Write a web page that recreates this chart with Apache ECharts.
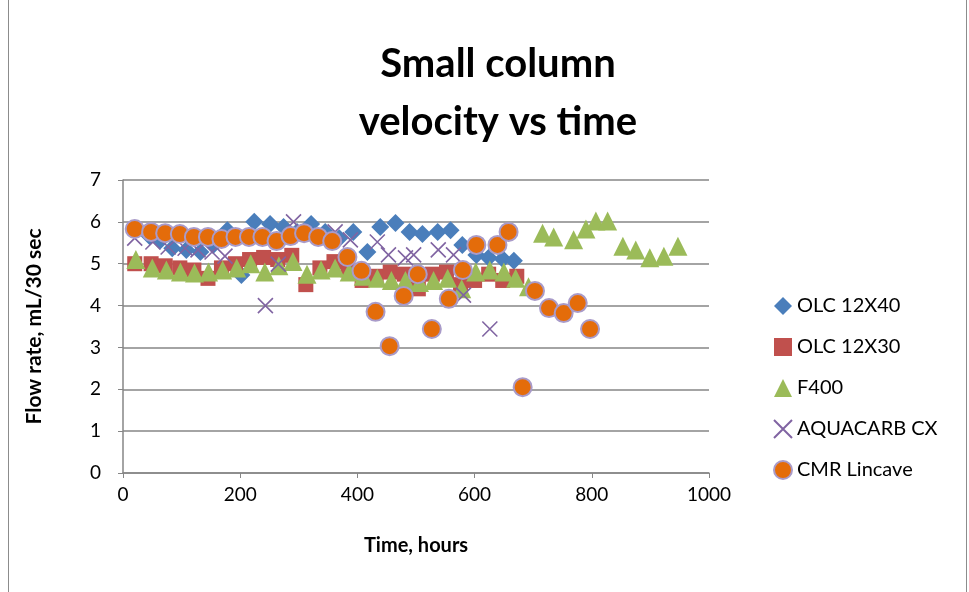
<!DOCTYPE html>
<html><head><meta charset="utf-8">
<script src="https://cdn.jsdelivr.net/npm/echarts@6/dist/echarts.min.js"></script>
<style>html,body{margin:0;padding:0;background:#fff}#c{width:969px;height:592px}</style>
</head><body><div id="c"></div>
<script>
const seriesNames = ['OLC 12X40', 'OLC 12X30', 'F400', 'AQUACARB CX', 'CMR Lincave'];
const xTicks = [0, 200, 400, 600, 800, 1000];
const yTicks = [0, 1, 2, 3, 4, 5, 6, 7];

const olc40X = [20, 46, 63, 84, 108, 132, 154, 178, 202, 224, 251, 274, 297, 321, 345, 369, 393, 417, 439, 465, 489, 511, 537, 559, 579, 603, 624, 648, 667];
const olc40Y = [5.83, 5.65, 5.55, 5.37, 5.33, 5.28, 5.45, 5.8, 4.73, 6.0, 5.95, 5.88, 5.76, 5.95, 5.76, 5.61, 5.76, 5.28, 5.88, 5.97, 5.76, 5.71, 5.76, 5.8, 5.45, 5.21, 5.14, 5.11, 5.07];

const olc30X = [20, 48, 72, 97, 121, 145, 168, 192, 216, 240, 264, 288, 312, 336, 360, 384, 408, 432, 456, 480, 504, 528, 552, 576, 600, 624, 648, 672];
const olc30Y = [5.0, 5.0, 4.95, 4.9, 4.85, 4.65, 4.9, 5.0, 5.1, 5.15, 5.1, 5.2, 4.5, 4.9, 5.05, 4.85, 4.6, 4.7, 4.8, 4.75, 4.4, 4.75, 4.8, 4.5, 4.6, 4.75, 4.6, 4.7];

const f400X = [22, 50, 74, 98, 122, 146, 170, 194, 218, 242, 266, 290, 314, 338, 362, 386, 410, 434, 458, 482, 506, 530, 554, 578, 602, 626, 650, 670, 692, 716, 735, 769, 790, 807, 827, 853, 875, 899, 923, 947];
const f400Y = [5.1, 4.9, 4.85, 4.8, 4.78, 4.8, 4.85, 4.9, 5.0, 4.8, 4.95, 5.05, 4.75, 4.85, 4.9, 4.8, 4.7, 4.65, 4.6, 4.6, 4.55, 4.6, 4.65, 4.4, 4.8, 4.85, 4.8, 4.65, 4.45, 5.73, 5.64, 5.57, 5.83, 6.02, 6.02, 5.42, 5.33, 5.14, 5.18, 5.42];

const aquaX = [20, 51, 77, 106, 128, 152, 174, 243, 265, 291, 362, 388, 434, 453, 482, 496, 538, 564, 581, 626];
const aquaY = [5.61, 5.52, 5.4, 5.37, 5.33, 5.28, 5.18, 4.0, 4.99, 6.0, 5.76, 5.57, 5.52, 5.21, 5.14, 5.21, 5.33, 5.21, 4.25, 3.44];

const cmrX = [20, 48, 72, 97, 121, 145, 168, 192, 215, 238, 262, 286, 309, 333, 357, 383, 407, 431, 455, 479, 503, 527, 556, 580, 603, 639, 658, 682, 703, 727, 752, 776, 797];
const cmrY = [5.83, 5.76, 5.73, 5.71, 5.64, 5.64, 5.59, 5.64, 5.64, 5.64, 5.54, 5.66, 5.73, 5.64, 5.54, 5.16, 4.83, 3.85, 3.03, 4.23, 4.75, 3.44, 4.16, 4.85, 5.45, 5.45, 5.76, 2.05, 4.35, 3.94, 3.82, 4.06, 3.44];

function pts(xs, ys) { return xs.map((x, i) => [x, ys[i]]); }

const FONT = 'Lato';
const crossPath = 'path://M0,0L10,10M10,0L0,10';

const chart = echarts.init(document.getElementById('c'), null, {renderer: 'canvas'});
chart.setOption({
  animation: false,
  backgroundColor: '#fff',
  textStyle: {fontFamily: FONT},
  title: {
    text: 'Small column\nvelocity vs time',
    left: 493, textAlign: 'center', top: 30,
    textStyle: {fontFamily: FONT, fontWeight: 'bold', fontSize: 40, lineHeight: 58, color: '#000'}
  },
  graphic: [{
    type: 'rect', shape: {x: 8.5, y: -2, width: 958, height: 600},
    style: {fill: 'none', stroke: '#8c8c8c', lineWidth: 1}, silent: true
  }],
  grid: {left: 123, right: 260, top: 180, bottom: 119, containLabel: false},
  xAxis: {
    type: 'value', min: xTicks[0], max: xTicks[xTicks.length - 1], interval: 200,
    name: 'Time, hours', nameLocation: 'middle', nameGap: 63,
    nameTextStyle: {fontFamily: FONT, fontWeight: 'bold', fontSize: 20, color: '#000'},
    axisLine: {show: true, onZero: false, lineStyle: {color: '#868686', width: 1.5}},
    axisTick: {show: true, length: 5, lineStyle: {color: '#868686'}},
    axisLabel: {fontFamily: FONT, fontSize: 19, color: '#000', margin: 12, formatter: v => String(v)},
    splitLine: {show: false}
  },
  yAxis: {
    type: 'value', min: yTicks[0], max: yTicks[yTicks.length - 1], interval: 1,
    name: 'Flow rate, mL/30 sec', nameLocation: 'middle', nameGap: 78,
    nameTextStyle: {fontFamily: FONT, fontWeight: 'bold', fontSize: 21, color: '#000'},
    axisLine: {show: true, lineStyle: {color: '#868686', width: 1.5}},
    axisTick: {show: true, length: 5, lineStyle: {color: '#868686'}},
    axisLabel: {fontFamily: FONT, fontSize: 19, color: '#000', margin: 22, formatter: v => String(v)},
    splitLine: {show: true, lineStyle: {color: '#868686', width: 1.5}}
  },
  legend: {
    orient: 'vertical', left: 768, top: 291, itemGap: 21, itemWidth: 18, itemHeight: 18,
    textStyle: {fontFamily: FONT, fontSize: 20, color: '#000'},
    data: [
      {name: seriesNames[0], icon: 'diamond'},
      {name: seriesNames[1], icon: 'rect'},
      {name: seriesNames[2], icon: 'triangle'},
      {name: seriesNames[3], icon: crossPath},
      {name: seriesNames[4], icon: 'circle'}
    ]
  },
  series: [
    {name: seriesNames[0], type: 'scatter', data: pts(olc40X, olc40Y), symbol: 'diamond', symbolSize: 18,
     itemStyle: {color: '#4A7EBB', opacity: 1}},
    {name: seriesNames[1], type: 'scatter', data: pts(olc30X, olc30Y), symbol: 'rect', symbolSize: 15,
     itemStyle: {color: '#C0504D', opacity: 1}},
    {name: seriesNames[2], type: 'scatter', data: pts(f400X, f400Y), symbol: 'triangle', symbolSize: 19,
     itemStyle: {color: '#9BBB59', opacity: 1}},
    {name: seriesNames[3], type: 'scatter', data: pts(aquaX, aquaY), symbol: crossPath, symbolSize: 15,
     itemStyle: {color: 'rgba(0,0,0,0)', borderColor: '#8064A2', borderWidth: 1.6, opacity: 1}},
    {name: seriesNames[4], type: 'scatter', data: pts(cmrX, cmrY), symbol: 'circle', symbolSize: 18,
     itemStyle: {color: '#E46C0A', borderColor: '#A99BC9', borderWidth: 2, opacity: 1}}
  ]
});
</script></body></html>
